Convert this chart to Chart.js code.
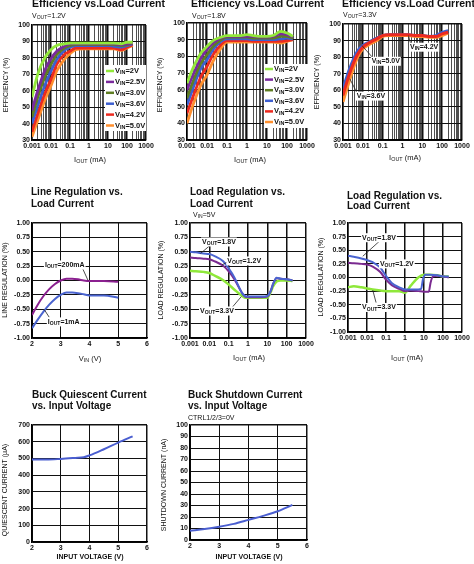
<!DOCTYPE html>
<html>
<head>
<meta charset="utf-8">
<script src="https://cdn.jsdelivr.net/npm/chart.js@4/dist/chart.umd.min.js"></script>
<style>
html,body{margin:0;padding:0;background:#fff;}
#wrap{position:relative;width:474px;height:564px;overflow:hidden;background:#fff;}
#wrap canvas{position:absolute;left:0;top:0;}
</style>
</head>
<body>
<div id="wrap"></div>
<script>
// ---- data ----
// efficiency vs load current (x = IOUT in mA)
const effIout = [0.001,0.002,0.005,0.01,0.02,0.05,0.1,0.2,0.5,1,2,5,10,20,50,100,200];
const vinLabels = ['2V','2.5V','3.0V','3.6V','4.2V','5.0V'];
const vinColors = ['#92e83a','#7a2a9c','#5f7d22','#3d5fd0','#ec2a1f','#ff8f2e'];
const eff12 = [
  [56,70,80.5,85,87.5,88.5,89,89,89,89,89,89,89,89,88.5,89.5,89.5],
  [48,60,73,79.5,84,87,88.5,88.5,88.5,88.5,88.5,88.5,88.5,88.5,88,88.5,89],
  [44,56,69,76,82,86,87.5,88,88,88,88,88,88,88,87.5,88,89],
  [40,51,64,72,79,84.5,86.5,87.5,87.5,87.5,87.5,87.5,87.5,87,86.5,87.5,88.5],
  [35,46,59,67,76,82,84,86,86,86,86,86,86,86,85,86.5,88],
  [32,42,55,63,72,79,82.5,85,85.5,85.5,85.5,85.5,85.5,85.5,84.5,86,87.5]
];
const eff18 = [
  [64,73,82,86,89.5,91.5,92.5,92.5,92.5,93,92.5,92,92,92.5,95,94,92],
  [60,69,79,84,88,91,92,92,92,92,92,91.5,91.5,92,93.5,93,91.5],
  [55,65,76,81,86,90,91.5,91.5,91.5,91.5,91,91,91,91,92,92,91],
  [51,61,73,78,84,89,90.5,90.5,90.5,90.5,90,90,90,90,90.5,91,90.5],
  [46,56,68,74,81,87,89.5,89.5,89.5,89.5,89,89,89,89,89,89.5,90],
  [40,51,63,69,77,85,88.5,88.5,88.5,88.5,88.5,88.5,88.5,88.5,88,89,90]
];
const eff33Colors = ['#3d5fd0','#ec2a1f','#ff8f2e'];
const eff33 = [
  [61,72,83,87,89,91.5,93,93.5,93.5,93.5,93.5,93,93,92.5,93,95,96],
  [57,69,81,86,88.5,91,93,93.5,93.5,93.5,93.5,93,93,92.5,92.5,94,95],
  [53,65,79,85,87.5,90,92.5,93,93,93,93,92.5,92.5,92,92,93,94.5]
];
const effTicks = [30,40,50,60,70,80,90,100];

// log axis ticks
const logDecades = [0.001,0.01,0.1,1,10,100,1000];
const logDecadeLabels = ['0.001','0.01','0.1','1','10','100','1000'];
const logMinor = [2,3,4,5,6,7,8,9];

// line regulation vs VIN
const lineVin = [2,2.2,2.4,2.6,2.8,3.0,3.2,3.4,3.6,3.8,4.0,4.5,5.0];
const line200mA = [-0.6,-0.42,-0.27,-0.15,-0.06,0.0,0.03,0.03,0.02,0.0,-0.01,-0.01,-0.02];
const line1mA = [-0.83,-0.68,-0.54,-0.42,-0.32,-0.25,-0.21,-0.21,-0.22,-0.24,-0.26,-0.26,-0.3];
const vinTicks = [2,3,4,5,6];
const regTicks = [-1,-0.75,-0.5,-0.25,0,0.25,0.5,0.75,1];

// load regulation, VIN=5V
const load5Iout = [0.001,0.002,0.005,0.01,0.02,0.05,0.1,0.2,0.5,0.7,1,2,5,10,15,20,30,50,100,200];
const load5V18 = [0.5,0.49,0.47,0.46,0.42,0.34,0.21,0.05,-0.22,-0.27,-0.28,-0.28,-0.28,-0.27,-0.18,-0.06,0.05,0.03,0.02,0.0];
const load5V12 = [0.4,0.39,0.38,0.37,0.33,0.26,0.16,0.02,-0.22,-0.28,-0.29,-0.29,-0.29,-0.28,-0.18,-0.06,0.04,0.03,0.02,0.0];
const load5V33 = [0.17,0.16,0.15,0.13,0.08,0.01,-0.07,-0.16,-0.27,-0.3,-0.3,-0.3,-0.3,-0.3,-0.2,-0.1,-0.02,0.0,0.0,-0.01];

// load regulation, second set
const loadBIout18 = [0.001,0.002,0.005,0.01,0.02,0.05,0.1,0.2,0.5,1,2,5,7,9,12,20,50,100,200];
const loadB18 = [0.4,0.38,0.35,0.32,0.28,0.18,0.03,-0.1,-0.18,-0.22,-0.22,-0.22,-0.21,-0.02,0.05,0.05,0.04,0.02,0.02];
const loadBIout12 = [0.001,0.002,0.005,0.01,0.02,0.05,0.1,0.2,0.5,1,2,5,10,18,22,30,50,100,200];
const loadB12 = [0.27,0.26,0.25,0.24,0.2,0.1,-0.04,-0.14,-0.21,-0.25,-0.24,-0.25,-0.26,-0.26,-0.1,0.02,0.03,0.02,0.0];
const loadBIout33 = [0.001,0.002,0.005,0.01,0.02,0.05,0.1,0.2,0.5,1,2,5,10,20,50,100,200];
const loadB33 = [-0.18,-0.16,-0.18,-0.2,-0.22,-0.24,-0.25,-0.25,-0.25,-0.28,-0.15,0.0,0.05,0.05,0.04,0.02,0.02];

// quiescent current
const qVin = [2,2.5,3,3.5,3.8,4,4.5,5,5.5];
const qCurrent = [493,493,497,503,507,518,555,595,632];
const qTicks = [0,100,200,300,400,500,600,700];

// shutdown current
const sdVin = [2,2.5,3,3.5,4,4.5,5,5.5];
const sdCurrent = [8,9.5,11.5,14,17.5,21,25,30.5];
const sdTicks = [0,10,20,30,40,50,60,70,80,90,100];

// ---- drawing helpers ----
const FONT = "'Liberation Sans', Arial, Helvetica, sans-serif";
const W = 474, H = 564;
const wrap = document.getElementById('wrap');

const logAllTicks = [];
logDecades.forEach((d,i)=>{
  logAllTicks.push(d);
  if(i<logDecades.length-1) logMinor.forEach(m=>logAllTicks.push(d*m));
});
function decadeIndex(v){ return logDecades.findIndex(d=>Math.abs(d-v)/d<1e-6); }
function logLabel(v){ const i=decadeIndex(v); return i<0?'':logDecadeLabels[i]; }

function fnt(size, weight){ return (weight||'normal')+' '+size+'px '+FONT; }
function parseRich(str){
  return str.split(/(\{[^}]*\})/).filter(p=>p).map(p=>p[0]==='{'?[p.slice(1,-1),1]:[p,0]);
}
function richWidth(ctx, parts, size, weight){
  let w=0;
  parts.forEach(p=>{ ctx.font=fnt(p[1]?size*0.72:size, weight); w+=ctx.measureText(p[0]).width; });
  return w;
}
function drawRich(ctx, str, x, y, size, weight, align){
  const parts = parseRich(str);
  const w = richWidth(ctx, parts, size, weight);
  let cx = align==='center' ? x-w/2 : (align==='right' ? x-w : x);
  ctx.textAlign='left'; ctx.textBaseline='middle';
  parts.forEach(p=>{
    const sz = p[1]?size*0.72:size;
    ctx.font = fnt(sz, weight);
    ctx.fillText(p[0], cx, y+(p[1]?size*0.25:0));
    cx += ctx.measureText(p[0]).width;
  });
  return w;
}

function decor(c){
  return {
    id:'decor',
    afterDatasetsDraw(chart){
      const ctx=chart.ctx, xs=chart.scales.x, ys=chart.scales.y;
      const px=v=>xs.getPixelForValue(v), py=v=>ys.getPixelForValue(v);
      ctx.save();
      (c.notes||[]).forEach(n=>{
        if(n.lead){
          ctx.strokeStyle='#222'; ctx.lineWidth=0.8;
          ctx.beginPath(); ctx.moveTo(px(n.lead[0]),py(n.lead[1])); ctx.lineTo(px(n.lead[2]),py(n.lead[3])); ctx.stroke();
        }
        const w = richWidth(ctx, parseRich(n.t), 7, 'bold');
        ctx.fillStyle='#fff'; ctx.fillRect(px(n.x)-1, py(n.y)-4.5, w+2, 9);
        ctx.fillStyle='#111'; drawRich(ctx, n.t, px(n.x), py(n.y), 7, 'bold', 'left');
      });
      const L=c.legend;
      if(L){
        ctx.fillStyle='#fff'; ctx.fillRect(L.x, L.y, L.w, L.h);
        L.labels.forEach((lab,i)=>{
          const y=L.y+L.pad+i*L.row;
          ctx.strokeStyle=L.colors[i]; ctx.lineWidth=2.5;
          ctx.beginPath(); ctx.moveTo(L.x+1,y); ctx.lineTo(L.x+9,y); ctx.stroke();
          ctx.fillStyle='#111'; drawRich(ctx, 'V{IN}='+lab, L.x+10, y, 7.5, 'bold', 'left');
        });
      }
      ctx.restore();
    },
    afterDraw(chart){
      const ctx=chart.ctx;
      ctx.save(); ctx.fillStyle='#111';
      c.texts.forEach(tx=>{
        const wt = tx.b?'bold':'normal';
        if(tx.r){
          ctx.save(); ctx.translate(tx.x, tx.y); ctx.rotate(-Math.PI/2);
          drawRich(ctx, tx.t, 0, 0, tx.s, wt, 'center');
          ctx.restore();
        } else drawRich(ctx, tx.t, tx.x, tx.y, tx.s, wt, tx.a||'left');
      });
      ctx.restore();
    }
  };
}

function buildChart(c){
  const cv=document.createElement('canvas');
  cv.width=W; cv.height=H;
  wrap.appendChild(cv);
  const [l,t,r,b]=c.box;
  const YW=30, XH=11;
  const tickFont={family:FONT, size:7, weight:'bold'};
  new Chart(cv,{
    type:'scatter',
    data:{datasets:c.series.map(s=>({
      data:s.x.map((x,i)=>({x:x, y:s.y[i]})),
      showLine:true, borderColor:s.color, backgroundColor:s.color,
      borderWidth:s.w||2, pointRadius:0, cubicInterpolationMode:'monotone', order:s.order||0
    }))},
    options:{
      responsive:false, animation:false, events:[],
      layout:{padding:{left:l-YW, right:W-r, top:t, bottom:H-b-XH}},
      plugins:{legend:{display:false}, tooltip:{enabled:false}},
      scales:{
        x:{
          type:c.xLog?'logarithmic':'linear', min:c.xMin, max:c.xMax,
          afterBuildTicks:s=>{ s.ticks=c.xTicks.map(v=>({value:v})); },
          afterFit:s=>{ s.height=XH; },
          ticks:{autoSkip:false, maxRotation:0, minRotation:0, padding:2, color:'#111', font:tickFont,
                 callback:c.xLog?(v=>logLabel(v)):(v=>String(v))},
          grid:{drawTicks:false,
                color:ctx=>{ const v=ctx.tick?ctx.tick.value:0; return (!c.xLog||decadeIndex(v)>=0)?'#111':'#505050'; },
                lineWidth:ctx=>{ const v=ctx.tick?ctx.tick.value:0; if(Math.abs(v-c.xMax)<1e-9) return 1.5; return (c.xLog&&decadeIndex(v)>=0)?1.5:1; }},
          border:{color:'#000', width:1.5}
        },
        y:{
          type:'linear', min:c.yMin, max:c.yMax,
          afterBuildTicks:s=>{ s.ticks=c.yTicks.map(v=>({value:v})); },
          afterFit:s=>{ s.width=YW; },
          ticks:{padding:2, color:'#111', font:tickFont, callback:c.yFmt||(v=>String(v))},
          grid:{drawTicks:false, color:'#111',
                lineWidth:ctx=>{ const v=ctx.tick?ctx.tick.value:0; return Math.abs(v-c.yMax)<1e-9?1.5:1; }},
          border:{color:'#000', width:1.5}
        }
      }
    },
    plugins:[decor(c)]
  });
}

const fmt2 = v=>Number(v).toFixed(2);

const charts = [
  { // efficiency VOUT=1.2V
    box:[32,25,146,140], xLog:true, xMin:0.001, xMax:1000, xTicks:logAllTicks,
    yMin:30, yMax:100, yTicks:effTicks,
    series:eff12.map((ys,i)=>({x:effIout, y:ys, color:vinColors[i], w:2.8})),
    legend:{x:105, y:65, w:41, h:66, pad:6, row:10.9, labels:vinLabels, colors:vinColors},
    texts:[
      {t:'Efficiency vs.Load Current', x:32, y:4.5, s:10.5, b:1},
      {t:'V{OUT}=1.2V', x:32, y:16, s:7},
      {t:'EFFICIENCY (%)', x:6, y:85, s:7, r:1},
      {t:'I{OUT} (mA)', x:90, y:160, s:7.5, a:'center'}
    ]
  },
  { // efficiency VOUT=1.8V
    box:[187,23,307,140], xLog:true, xMin:0.001, xMax:1000, xTicks:logAllTicks,
    yMin:30, yMax:100, yTicks:effTicks,
    series:eff18.map((ys,i)=>({x:effIout, y:ys, color:vinColors[i], w:2.8})),
    legend:{x:264, y:64, w:44, h:64, pad:5, row:10.6, labels:vinLabels, colors:vinColors},
    texts:[
      {t:'Efficiency vs.Load Current', x:191, y:4.5, s:10.5, b:1},
      {t:'V{OUT}=1.8V', x:192, y:16, s:7},
      {t:'EFFICIENCY (%)', x:160, y:85, s:7, r:1},
      {t:'I{OUT} (mA)', x:250, y:160, s:7.5, a:'center'}
    ]
  },
  { // efficiency VOUT=3.3V
    box:[343,24,462,140], xLog:true, xMin:0.001, xMax:1000, xTicks:logAllTicks,
    yMin:30, yMax:100, yTicks:effTicks,
    series:eff33.map((ys,i)=>({x:effIout, y:ys, color:eff33Colors[i], w:3, order:[2,0,1][i]})),
    notes:[
      {t:'V{IN}=4.2V', x:2.4, y:86, lead:[2.6,88,2.0,93]},
      {t:'V{IN}=5.0V', x:0.028, y:77.5, lead:[0.03,80,0.009,87]},
      {t:'V{IN}=3.6V', x:0.005, y:56.5, lead:[0.0048,59,0.0022,67]}
    ],
    texts:[
      {t:'Efficiency vs.Load Current', x:342, y:4.5, s:10.5, b:1},
      {t:'V{OUT}=3.3V', x:343, y:15, s:7},
      {t:'EFFICIENCY (%)', x:317, y:82, s:7, r:1},
      {t:'I{OUT} (mA)', x:405, y:158, s:7.5, a:'center'}
    ]
  },
  { // line regulation
    box:[32,223,147,338], xLog:false, xMin:2, xMax:6, xTicks:vinTicks,
    yMin:-1, yMax:1, yTicks:regTicks, yFmt:fmt2,
    series:[
      {x:lineVin, y:line200mA, color:'#8b2090', w:2},
      {x:lineVin, y:line1mA, color:'#4a64d0', w:2}
    ],
    notes:[
      {t:'I{OUT}=200mA', x:2.45, y:0.27, lead:[3.75,0.22,3.95,0.0]},
      {t:'I{OUT}=1mA', x:2.55, y:-0.72, lead:[2.6,-0.64,2.42,-0.5]}
    ],
    texts:[
      {t:'Line Regulation vs.', x:31, y:192, s:10, b:1},
      {t:'Load Current', x:31, y:204, s:10, b:1},
      {t:'LINE REGULATION (%)', x:5.5, y:280, s:7, r:1},
      {t:'V{IN} (V)', x:90, y:359, s:7.5, a:'center'}
    ]
  },
  { // load regulation VIN=5V
    box:[190,223,306,338], xLog:true, xMin:0.001, xMax:1000, xTicks:logDecades,
    yMin:-1, yMax:1, yTicks:regTicks, yFmt:fmt2,
    series:[
      {x:load5Iout, y:load5V18, color:'#4a64d0', w:2},
      {x:load5Iout, y:load5V12, color:'#7a2a90', w:2},
      {x:load5Iout, y:load5V33, color:'#8fe83a', w:2.5}
    ],
    notes:[
      {t:'V{OUT}=1.8V', x:0.0042, y:0.67, lead:[0.01,0.6,0.0035,0.47]},
      {t:'V{OUT}=1.2V', x:0.085, y:0.34, lead:[0.085,0.32,0.045,0.27]},
      {t:'V{OUT}=3.3V', x:0.0033, y:-0.53, lead:[0.15,-0.47,0.45,-0.28]}
    ],
    texts:[
      {t:'Load Regulation vs.', x:190, y:192, s:10, b:1},
      {t:'Load Current', x:190, y:204, s:10, b:1},
      {t:'V{IN}=5V', x:193, y:215, s:7},
      {t:'LOAD REGULATION (%)', x:161, y:280, s:7, r:1},
      {t:'I{OUT} (mA)', x:249, y:358, s:7.5, a:'center'}
    ]
  },
  { // load regulation, second set
    box:[348,223,462,332], xLog:true, xMin:0.001, xMax:1000, xTicks:logDecades,
    yMin:-1, yMax:1, yTicks:regTicks, yFmt:fmt2,
    series:[
      {x:loadBIout18, y:loadB18, color:'#4a64d0', w:2},
      {x:loadBIout12, y:loadB12, color:'#7a2a90', w:2},
      {x:loadBIout33, y:loadB33, color:'#8fe83a', w:2.5}
    ],
    notes:[
      {t:'V{OUT}=1.8V', x:0.0055, y:0.73, lead:[0.05,0.68,0.006,0.39]},
      {t:'V{OUT}=1.2V', x:0.048, y:0.25},
      {t:'V{OUT}=3.3V', x:0.0055, y:-0.55, lead:[0.03,-0.46,0.02,-0.23]}
    ],
    texts:[
      {t:'Load Regulation vs.', x:347, y:196.5, s:10, b:1},
      {t:'Load Current', x:347, y:206, s:10, b:1},
      {t:'LOAD REGULATION (%)', x:321, y:277, s:7, r:1},
      {t:'I{OUT} (mA)', x:407, y:358, s:7.5, a:'center'}
    ]
  },
  { // quiescent current
    box:[32,425,147,542], xLog:false, xMin:2, xMax:6, xTicks:vinTicks,
    yMin:0, yMax:700, yTicks:qTicks,
    series:[{x:qVin, y:qCurrent, color:'#4a5ed0', w:2}],
    texts:[
      {t:'Buck Quiescent Current', x:32, y:395.5, s:10, b:1},
      {t:'vs. Input Voltage', x:32, y:406.5, s:10, b:1},
      {t:'QUIESCENT CURRENT (µA)', x:5, y:490, s:7, r:1},
      {t:'INPUT VOLTAGE (V)', x:90, y:557.5, s:7, b:1, a:'center'}
    ]
  },
  { // shutdown current
    box:[190,425,307,540], xLog:false, xMin:2, xMax:6, xTicks:vinTicks,
    yMin:0, yMax:100, yTicks:sdTicks,
    series:[{x:sdVin, y:sdCurrent, color:'#4a5ed0', w:2}],
    texts:[
      {t:'Buck Shutdown Current', x:188, y:395.5, s:10, b:1},
      {t:'vs. Input Voltage', x:188, y:406.5, s:10, b:1},
      {t:'CTRL1/2/3=0V', x:188, y:418, s:7},
      {t:'SHUTDOWN CURRENT (nA)', x:164, y:485, s:7, r:1},
      {t:'INPUT VOLTAGE (V)', x:249, y:557.5, s:7, b:1, a:'center'}
    ]
  }
];

charts.forEach(buildChart);
</script>
</body>
</html>
